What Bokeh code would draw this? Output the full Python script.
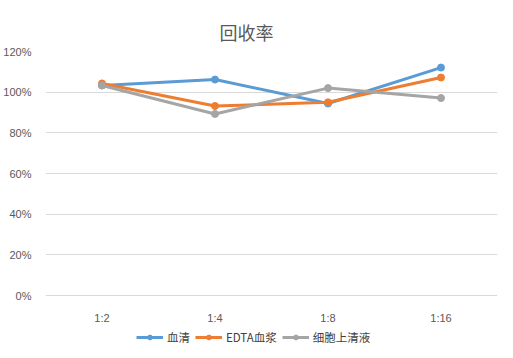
from bokeh.plotting import figure
from bokeh.models import Legend, LegendItem, NumeralTickFormatter, FixedTicker, Range1d
from bokeh.embed import file_html
from bokeh.resources import INLINE

categories = ["1:2", "1:4", "1:8", "1:16"]
serum = [1.033, 1.062, 0.944, 1.121]
edta_plasma = [1.043, 0.932, 0.950, 1.072]
cell_supernatant = [1.033, 0.893, 1.020, 0.971]
series_names = ["血清", "EDTA血浆", "细胞上清液"]
series_values = [serum, edta_plasma, cell_supernatant]
colors = ["#5B9BD5", "#ED7D31", "#A5A5A5"]
y_ticks = [0, 0.2, 0.4, 0.6, 0.8, 1.0, 1.2]

# layout: value axis spans 244 px for 0..120%; frame extends 50 px below 0 to hold legend
axis_px = 244
extra_px = 50
y_max = 1.2
y_min = -y_max * extra_px / axis_px

p = figure(frame_width=452, frame_height=axis_px + extra_px, x_range=categories,
           y_range=Range1d(y_min, y_max),
           output_backend="svg", toolbar_location=None,
           min_border_left=45, min_border_right=8, min_border_top=51, min_border_bottom=5)

p.title.text = "回收率"
p.title.text_font = "Noto Sans CJK SC"
p.title.text_font_size = "18px"
p.title.text_font_style = "normal"
p.title.text_color = "#595959"
p.title.align = "left"
p.title.offset = 174
p.title.standoff = 14

p.outline_line_color = None
p.background_fill_color = "white"
p.border_fill_color = "white"

p.xgrid.grid_line_color = None
p.ygrid.grid_line_color = "#D9D9D9"
p.ygrid.grid_line_width = 1
p.yaxis.ticker = FixedTicker(ticks=y_ticks)
p.yaxis.formatter = NumeralTickFormatter(format="0%")
p.xaxis.fixed_location = 0

for ax in (p.xaxis, p.yaxis):
    ax.axis_line_color = None
    ax.major_tick_line_color = None
    ax.minor_tick_line_color = None
    ax.major_label_text_font = "Liberation Sans"
    ax.major_label_text_font_size = "11px"
    ax.major_label_text_color = "#595959"
p.yaxis.major_label_standoff = 8
p.xaxis.major_label_standoff = 10

items = []
for name, vals, c in zip(series_names, series_values, colors):
    r1 = p.line(categories, vals, line_color=c, line_width=3)
    r2 = p.scatter(categories, vals, size=7, fill_color=c, line_color=c)
    items.append(LegendItem(label=name, renderers=[r1, r2]))

legend = Legend(items=items, orientation="horizontal", location=(91, 0),
                label_text_font="Noto Sans CJK SC", label_text_font_size="11.5px",
                label_text_color="#404040", glyph_width=27, glyph_height=12,
                label_standoff=4, spacing=5, padding=2, margin=0,
                border_line_color=None, background_fill_alpha=0)
p.add_layout(legend)

open("out.html", "w").write(file_html(p, INLINE))
